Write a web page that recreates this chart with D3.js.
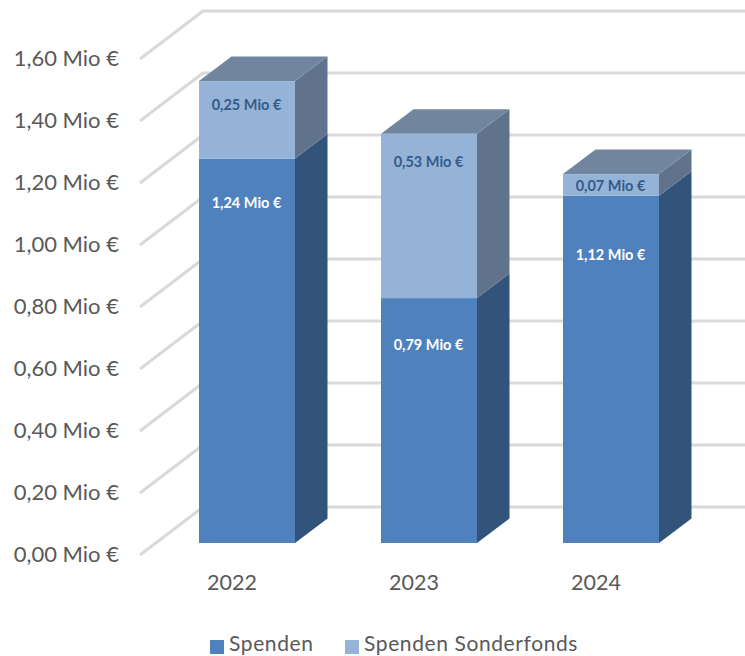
<!DOCTYPE html>
<html>
<head>
<meta charset="utf-8">
<style>
  html, body { margin: 0; padding: 0; background: #fff; overflow: hidden; }
  text { font-family: Lato, "Open Sans", sans-serif; }
</style>
</head>
<body>
<svg id="chart" width="745" height="656"></svg>
<script src="https://d3js.org/d3.v7.min.js"></script>
<script>
const years = ["2022", "2023", "2024"];
const spenden = [1.24, 0.79, 1.12];
const sonderfonds = [0.25, 0.53, 0.07];
const totals = [1.49, 1.32, 1.19];
const ticks = [0, 0.2, 0.4, 0.6, 0.8, 1.0, 1.2, 1.4, 1.6];
const seriesNames = ["Spenden", "Spenden Sonderfonds"];

const svg = d3.select("#chart");
const fmt = d => d3.format(".2f")(d).replace(".", ",") + " Mio €";

// y scale for the front of the floor, walls are shifted from it
const y = d3.scaleLinear().domain([0, 1.6]).range([543, 47]);
const x = d3.scaleBand().domain(years).range([113, 745]).paddingInner(0.4725).paddingOuter(0.4725);

const wallFront = 12, wallX0 = 140, wallX1 = 203, wallBack = -36;
const depthX = 32.5, depthY = 24.5;

// side wall
svg.selectAll(".wall").data(ticks).enter().append("line")
  .attr("x1", wallX0).attr("y1", d => y(d) + wallFront)
  .attr("x2", wallX1).attr("y2", d => y(d) + wallBack)
  .attr("stroke", "#d9d9d9").attr("stroke-width", 3);

// back wall
svg.selectAll(".grid").data(ticks).enter().append("line")
  .attr("x1", wallX1 - 1).attr("y1", d => y(d) + wallBack)
  .attr("x2", 745).attr("y2", d => y(d) + wallBack)
  .attr("stroke", "#d9d9d9").attr("stroke-width", 3);

// tick labels
svg.selectAll(".tick").data(ticks).enter().append("text")
  .attr("x", 119).attr("y", d => y(d) + wallFront + 1.5)
  .attr("text-anchor", "end").attr("dominant-baseline", "middle")
  .attr("font-size", 22).attr("fill", "#595959")
  .text(fmt);

function side(g, xr, y0, y1, fill) {
  g.append("polygon")
    .attr("points", [[xr, y0], [xr + depthX, y0 - depthY], [xr + depthX, y1 - depthY], [xr, y1]].join(" "))
    .attr("fill", fill);
}

// labels are not centred in the segments, Excel puts them a bit off
const lowLabelDy = [46, 48, 60];
const highLabelDy = [25, 29, 13];

years.forEach((yr, i) => {
  const g = svg.append("g");
  const xl = x(yr), w = x.bandwidth(), xr = xl + w;
  const y0 = y(0), yMid = y(spenden[i]), yTop = y(totals[i]);

  side(g, xr, y0, yMid, "#32537A");
  side(g, xr, yMid, yTop, "#61738C");
  g.append("polygon")
    .attr("points", [[xl, yTop], [xl + depthX, yTop - depthY], [xr + depthX, yTop - depthY], [xr, yTop]].join(" "))
    .attr("fill", "#71859F");
  g.append("rect").attr("x", xl).attr("y", yMid).attr("width", w).attr("height", y0 - yMid).attr("fill", "#4F81BD");
  g.append("rect").attr("x", xl).attr("y", yTop).attr("width", w).attr("height", yMid - yTop).attr("fill", "#95B3D7");

  g.append("text").attr("x", xl + w / 2 - 0.5).attr("y", yMid + lowLabelDy[i])
    .attr("text-anchor", "middle").attr("dominant-baseline", "middle")
    .attr("font-size", 14.5).attr("font-weight", 700).attr("fill", "#fff")
    .text(fmt(spenden[i]));
  g.append("text").attr("x", xl + w / 2 - 0.5).attr("y", yTop + highLabelDy[i])
    .attr("text-anchor", "middle").attr("dominant-baseline", "middle")
    .attr("font-size", 14.5).attr("font-weight", 700).attr("fill", "#355A8A")
    .text(fmt(sonderfonds[i]));

  // year label sits left of the bar centre
  svg.append("text").attr("x", xl + w / 2 - 15).attr("y", 585)
    .attr("text-anchor", "middle").attr("dominant-baseline", "middle")
    .attr("font-size", 21.5).attr("fill", "#595959")
    .text(yr);
});

// legend
const legendX = [210, 345], legendColors = ["#4F81BD", "#95B3D7"];
seriesNames.forEach((s, i) => {
  svg.append("rect").attr("x", legendX[i]).attr("y", 640).attr("width", 14).attr("height", 14).attr("fill", legendColors[i]);
  svg.append("text").attr("x", legendX[i] + 19).attr("y", 651)
    .attr("font-size", 21).attr("letter-spacing", 0.6).attr("fill", "#595959").text(s);
});
</script>
</body>
</html>
